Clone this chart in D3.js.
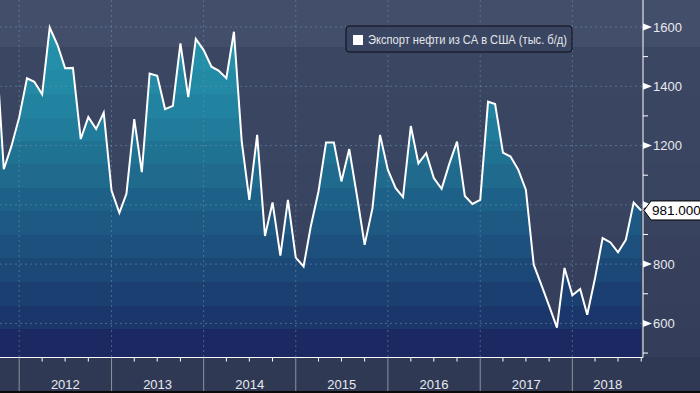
<!DOCTYPE html>
<html>
<head>
<meta charset="utf-8">
<script src="https://cdn.jsdelivr.net/npm/d3@7"></script>
<style>
  body { margin: 0; background: #2f3954; }
  svg { display: block; }
</style>
</head>
<body>
<div id="chart"></div>
<script>
// Monthly data (thousand barrels per day)
const months = [
  "2011-10", "2011-11", "2011-12",
  "2012-01", "2012-02", "2012-03", "2012-04", "2012-05", "2012-06", "2012-07", "2012-08", "2012-09", "2012-10", "2012-11", "2012-12",
  "2013-01", "2013-02", "2013-03", "2013-04", "2013-05", "2013-06", "2013-07", "2013-08", "2013-09", "2013-10", "2013-11", "2013-12",
  "2014-01", "2014-02", "2014-03", "2014-04", "2014-05", "2014-06", "2014-07", "2014-08", "2014-09", "2014-10", "2014-11", "2014-12",
  "2015-01", "2015-02", "2015-03", "2015-04", "2015-05", "2015-06", "2015-07", "2015-08", "2015-09", "2015-10", "2015-11", "2015-12",
  "2016-01", "2016-02", "2016-03", "2016-04", "2016-05", "2016-06", "2016-07", "2016-08", "2016-09", "2016-10", "2016-11", "2016-12",
  "2017-01", "2017-02", "2017-03", "2017-04", "2017-05", "2017-06", "2017-07", "2017-08", "2017-09", "2017-10", "2017-11", "2017-12",
  "2018-01", "2018-02", "2018-03", "2018-04", "2018-05", "2018-06", "2018-07", "2018-08", "2018-09", "2018-10"
];
const exports = [
  1540, 1120, 1197,
  1295, 1427, 1415, 1373, 1598, 1539, 1461, 1462, 1222, 1296, 1256, 1311,
  1048, 973, 1037, 1289, 1110, 1443, 1435, 1323, 1334, 1545, 1363, 1560,
  1522, 1466, 1453, 1427, 1584, 1213, 1017, 1236, 895, 1008, 829, 1017,
  822, 792, 925, 1045, 1210, 1210, 1079, 1188, 1028, 865, 989, 1236,
  1118, 1056, 1026, 1266, 1140, 1174, 1090, 1054, 1140, 1213, 1030, 1003,
  1017, 1348, 1340, 1176, 1163, 1118, 1050, 798, 728, 659, 586, 787,
  695, 716, 629, 753, 888, 873, 840, 882, 1008, 981
];
const yTicks = [600, 800, 1000, 1200, 1400, 1600];
const yMinorTicks = [500, 700, 900, 1100, 1300, 1500];
const seriesName = "Экспорт нефти из СА в США (тыс. б/д)";
const lastLabel = "981.000";

// Dimensions
const W = 700, H = 393;
const plotW = 643, plotH = 357.5;
const font = "'Liberation Sans', Arial, sans-serif";

const parse = d3.utcParse("%Y-%m");
const data = months.map((m, i) => ({ date: parse(m), value: exports[i] }));

// Scales
const x = d3.scaleUtc()
  .domain([new Date(Date.UTC(2011, 9, 17)), new Date(Date.UTC(2018, 9, 8))])
  .range([0, plotW]);
const y = d3.scaleLinear().domain([485, 1691]).range([plotH, 0]);

const svg = d3.select("#chart")
  .append("svg")
    .attr("width", W)
    .attr("height", H);

const defs = svg.append("defs");

// stepped gradients (background and area)
function stepGradient(id, edges, colors) {
  const g = defs.append("linearGradient")
    .attr("id", id)
    .attr("gradientUnits", "userSpaceOnUse")
    .attr("x1", 0).attr("y1", 0).attr("x2", 0).attr("y2", plotH);
  colors.forEach((c, i) => {
    g.append("stop").attr("offset", edges[i] / plotH).attr("stop-color", c);
    g.append("stop").attr("offset", edges[i + 1] / plotH).attr("stop-color", c);
  });
}
const bandEdges = [0, 47, 70.5, 94, 117.5, 141, 164.5, 188, 211.5, 235, 258.5, 282, 305.5, 329, plotH];
stepGradient("bgGrad", bandEdges, [
  "#434e6a", "#3b4662", "#3b4662", "#3a4561", "#3a4561", "#3a4561", "#394460",
  "#394460", "#38435f", "#37415d", "#36405c", "#36405c", "#353f5b", "#343e5a"
]);
stepGradient("areaGrad", bandEdges, [
  "#2794ae", "#238fa9", "#228aa5", "#2283a0", "#217b9a", "#207293", "#1f6a8d",
  "#1e6188", "#1e5983", "#1d507d", "#1c4877", "#1c3f71", "#1b366b", "#1b2862"
]);

defs.append("clipPath").attr("id", "plotClip")
  .append("rect").attr("width", plotW).attr("height", plotH);

// Background
svg.append("rect").attr("width", W).attr("height", plotH).attr("fill", "url(#bgGrad)");
svg.append("rect").attr("y", plotH).attr("width", W).attr("height", H - plotH).attr("fill", "#2f3954");
svg.append("rect").attr("y", H - 2).attr("width", W).attr("height", 2).attr("fill", "#0a0a0a");

const plot = svg.append("g").attr("clip-path", "url(#plotClip)");

// Area
const area = d3.area()
  .x(d => x(d.date))
  .y0(plotH)
  .y1(d => y(d.value));
plot.append("path")
  .datum(data)
  .attr("fill", "url(#areaGrad)")
  .attr("d", area);

// Grid lines
const years = d3.utcYear.range(x.domain()[0], x.domain()[1]);
plot.selectAll(".vgrid")
  .data(years)
  .join("line")
    .attr("x1", d => x(d)).attr("x2", d => x(d))
    .attr("y1", 0).attr("y2", plotH)
    .attr("stroke", "#6a93b5")
    .attr("stroke-opacity", 0.55)
    .attr("stroke-dasharray", "2,3");
plot.selectAll(".hgrid")
  .data(yTicks)
  .join("line")
    .attr("x1", 0).attr("x2", plotW)
    .attr("y1", d => y(d)).attr("y2", d => y(d))
    .attr("stroke", "#6a93b5")
    .attr("stroke-opacity", 0.55)
    .attr("stroke-dasharray", "2,3");

// Line
const line = d3.line()
  .x(d => x(d.date))
  .y(d => y(d.value));
plot.append("path")
  .datum(data)
  .attr("fill", "none")
  .attr("stroke", "#ffffff")
  .attr("stroke-width", 2)
  .attr("d", line);

// Legend
const legend = svg.append("g");
legend.append("rect")
  .attr("x", 346).attr("y", 26).attr("width", 226).attr("height", 26)
  .attr("rx", 3)
  .attr("fill", "#3a4561")
  .attr("stroke", "#0d0d12");
legend.append("rect")
  .attr("x", 353).attr("y", 35).attr("width", 10).attr("height", 10)
  .attr("fill", "#ffffff");
legend.append("text")
  .attr("x", 368).attr("y", 44)
  .attr("font-family", font)
  .attr("font-size", 12)
  .attr("fill", "#e4e6ea")
  .attr("textLength", 199)
  .attr("lengthAdjust", "spacingAndGlyphs")
  .text(seriesName);

// Y axis (right)
const yAxis = svg.append("g");
yAxis.append("line")
  .attr("x1", plotW).attr("x2", plotW)
  .attr("y1", 0).attr("y2", plotH)
  .attr("stroke", "#ffffff");
yAxis.selectAll(".minor")
  .data(yMinorTicks)
  .join("line")
    .attr("x1", plotW).attr("x2", plotW + 5)
    .attr("y1", d => y(d)).attr("y2", d => y(d))
    .attr("stroke", "#ffffff");
yAxis.selectAll(".marker")
  .data(yTicks)
  .join("path")
    .attr("d", d => `M${plotW},${y(d) - 3.5}L${plotW + 9},${y(d)}L${plotW},${y(d) + 3.5}Z`)
    .attr("fill", "#ffffff");
yAxis.selectAll(".label")
  .data(yTicks)
  .join("text")
    .attr("x", plotW + 10)
    .attr("y", d => y(d))
    .attr("dy", "0.36em")
    .attr("font-family", font)
    .attr("font-size", 13)
    .attr("fill", "#e8e9ee")
    .text(d => d);

// Last value tag
const last = data[data.length - 1];
const ly = y(last.value);
svg.append("path")
  .attr("d", `M${plotW + 1},${ly}L${plotW + 8},${ly - 9.5}L${W + 2},${ly - 9.5}L${W + 2},${ly + 9.5}L${plotW + 8},${ly + 9.5}Z`)
  .attr("fill", "#ffffff")
  .attr("stroke", "#000000");
svg.append("text")
  .attr("x", plotW + 9)
  .attr("y", ly)
  .attr("dy", "0.36em")
  .attr("font-family", font)
  .attr("font-size", 13.5)
  .attr("fill", "#000000")
  .text(lastLabel);

// X axis (bottom)
const xAxis = svg.append("g");
xAxis.append("line")
  .attr("x1", 0).attr("x2", plotW)
  .attr("y1", plotH).attr("y2", plotH)
  .attr("stroke", "#ffffff");
const quarters = d3.utcMonth.every(3).range(x.domain()[0], x.domain()[1]);
xAxis.selectAll(".qtick")
  .data(quarters.filter(d => d.getUTCMonth() !== 0))
  .join("line")
    .attr("x1", d => x(d)).attr("x2", d => x(d))
    .attr("y1", plotH).attr("y2", plotH + 4)
    .attr("stroke", "#ffffff");
xAxis.selectAll(".ytick")
  .data(years)
  .join("line")
    .attr("x1", d => x(d)).attr("x2", d => x(d))
    .attr("y1", plotH).attr("y2", H - 2)
    .attr("stroke", "#8d919d");
xAxis.selectAll(".ylabel")
  .data(years)
  .join("text")
    .attr("x", d => {
      const end = Math.min(x(d3.utcYear.offset(d, 1)), plotW);
      return (x(d) + end) / 2;
    })
    .attr("y", 389)
    .attr("text-anchor", "middle")
    .attr("font-family", font)
    .attr("font-size", 13)
    .attr("fill", "#e8e9ee")
    .text(d => d.getUTCFullYear());
</script>
</body>
</html>
